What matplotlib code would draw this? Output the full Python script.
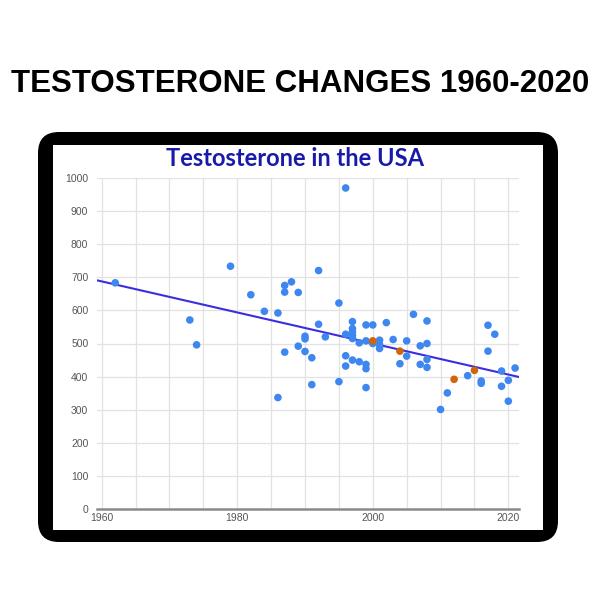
import matplotlib
matplotlib.use("Agg")
import matplotlib.pyplot as plt
from matplotlib.patches import FancyBboxPatch, Rectangle
import numpy as np

# data
blue_years = [1962, 1973, 1974, 1979, 1982, 1984, 1986, 1986, 1987, 1987,
              1987, 1988, 1989, 1989, 1990, 1990, 1990, 1991, 1991, 1992,
              1992, 1993, 1995, 1995, 1996, 1996, 1996, 1996, 1997, 1997,
              1997, 1997, 1997, 1997, 1998, 1998, 1999, 1999, 1999, 1999,
              1999, 2000, 2000, 2001, 2001, 2001, 2002, 2003, 2004, 2005,
              2005, 2006, 2007, 2007, 2008, 2008, 2008, 2008, 2010, 2011,
              2014, 2016, 2016, 2017, 2017, 2018, 2019, 2019, 2020, 2020,
              2021]
blue_values = [683, 571, 496, 733, 647, 597, 592, 337, 675, 655,
               474, 686, 654, 492, 522, 514, 476, 457, 376, 720,
               558, 520, 622, 385, 969, 528, 463, 432, 566, 545,
               535, 525, 515, 450, 502, 445, 556, 508, 437, 424,
               367, 556, 500, 510, 497, 485, 563, 512, 439, 508,
               462, 588, 493, 437, 568, 500, 452, 428, 301, 351,
               403, 387, 380, 555, 477, 528, 417, 371, 389, 326,
               426]
orange_years = [2000, 2004, 2012, 2015]
orange_values = [508, 477, 392, 419]
trend_years = [1959, 2022]
trend_values = [692, 397]

x_ticks = [1960, 1980, 2000, 2020]
y_ticks = list(range(0, 1001, 100))

W, H = 600, 600
fig = plt.figure(figsize=(6, 6), dpi=100)
fig.patch.set_facecolor("white")


def px(x0, y0, x1, y1):
    # pixel box (top-left origin) -> figure fraction rect
    return [x0 / W, 1 - y1 / H, (x1 - x0) / W, (y1 - y0) / H]


# black rounded frame around the chart
r = px(38, 132, 558, 542)
fig.patches.append(FancyBboxPatch((r[0], r[1]), r[2], r[3],
                                  boxstyle="round,pad=0,rounding_size=0.035",
                                  transform=fig.transFigure, facecolor="black",
                                  edgecolor="none", zorder=0))
r = px(53, 145, 543, 530)
fig.patches.append(Rectangle((r[0], r[1]), r[2], r[3], transform=fig.transFigure,
                             facecolor="white", edgecolor="none", zorder=0.5))

fig.text(0.5, 1 - 84 / H, "TESTOSTERONE CHANGES 1960-2020", ha="center", va="center",
         fontsize=22.5, fontweight="bold", family="Liberation Sans", color="black")

ax = fig.add_axes(px(96.7, 177.7, 519.3, 509.3))
ax.set_zorder(2)
ax.set_facecolor("none")
ax.set_xlim(1959.26, 2021.62)
ax.set_ylim(0, 1000)

for s in ["top", "right", "left"]:
    ax.spines[s].set_visible(False)
ax.spines["bottom"].set_color("#8a8a8a")
ax.spines["bottom"].set_linewidth(1.8)

ax.set_xticks(x_ticks)
ax.set_xticks(np.arange(1960, 2021, 5), minor=True)
ax.set_yticks(y_ticks)
ax.grid(True, which="both", color="#e2e2e2", linewidth=0.9)
ax.set_axisbelow(True)
ax.tick_params(axis="both", which="both", length=0, colors="#555555", labelsize=7.5)
ax.tick_params(axis="y", pad=6)
ax.tick_params(axis="x", pad=3)
for lab in ax.get_xticklabels() + ax.get_yticklabels():
    lab.set_family("Liberation Sans")

ax.plot(trend_years, trend_values, color="#3a2fe0", linewidth=1.5, zorder=2)
ax.scatter(blue_years, blue_values, s=30, color="#3f87f0", edgecolors="none", zorder=3)
ax.scatter(orange_years, orange_values, s=30, color="#d0650a", edgecolors="none", zorder=4)

fig.text(295 / W, 1 - 158 / H, "Testosterone in the USA", ha="center", va="center",
         fontsize=17, fontweight="bold", family="Lato", color="#1a1aa8", zorder=3)

fig.savefig("out.png", dpi=100, facecolor="white")
